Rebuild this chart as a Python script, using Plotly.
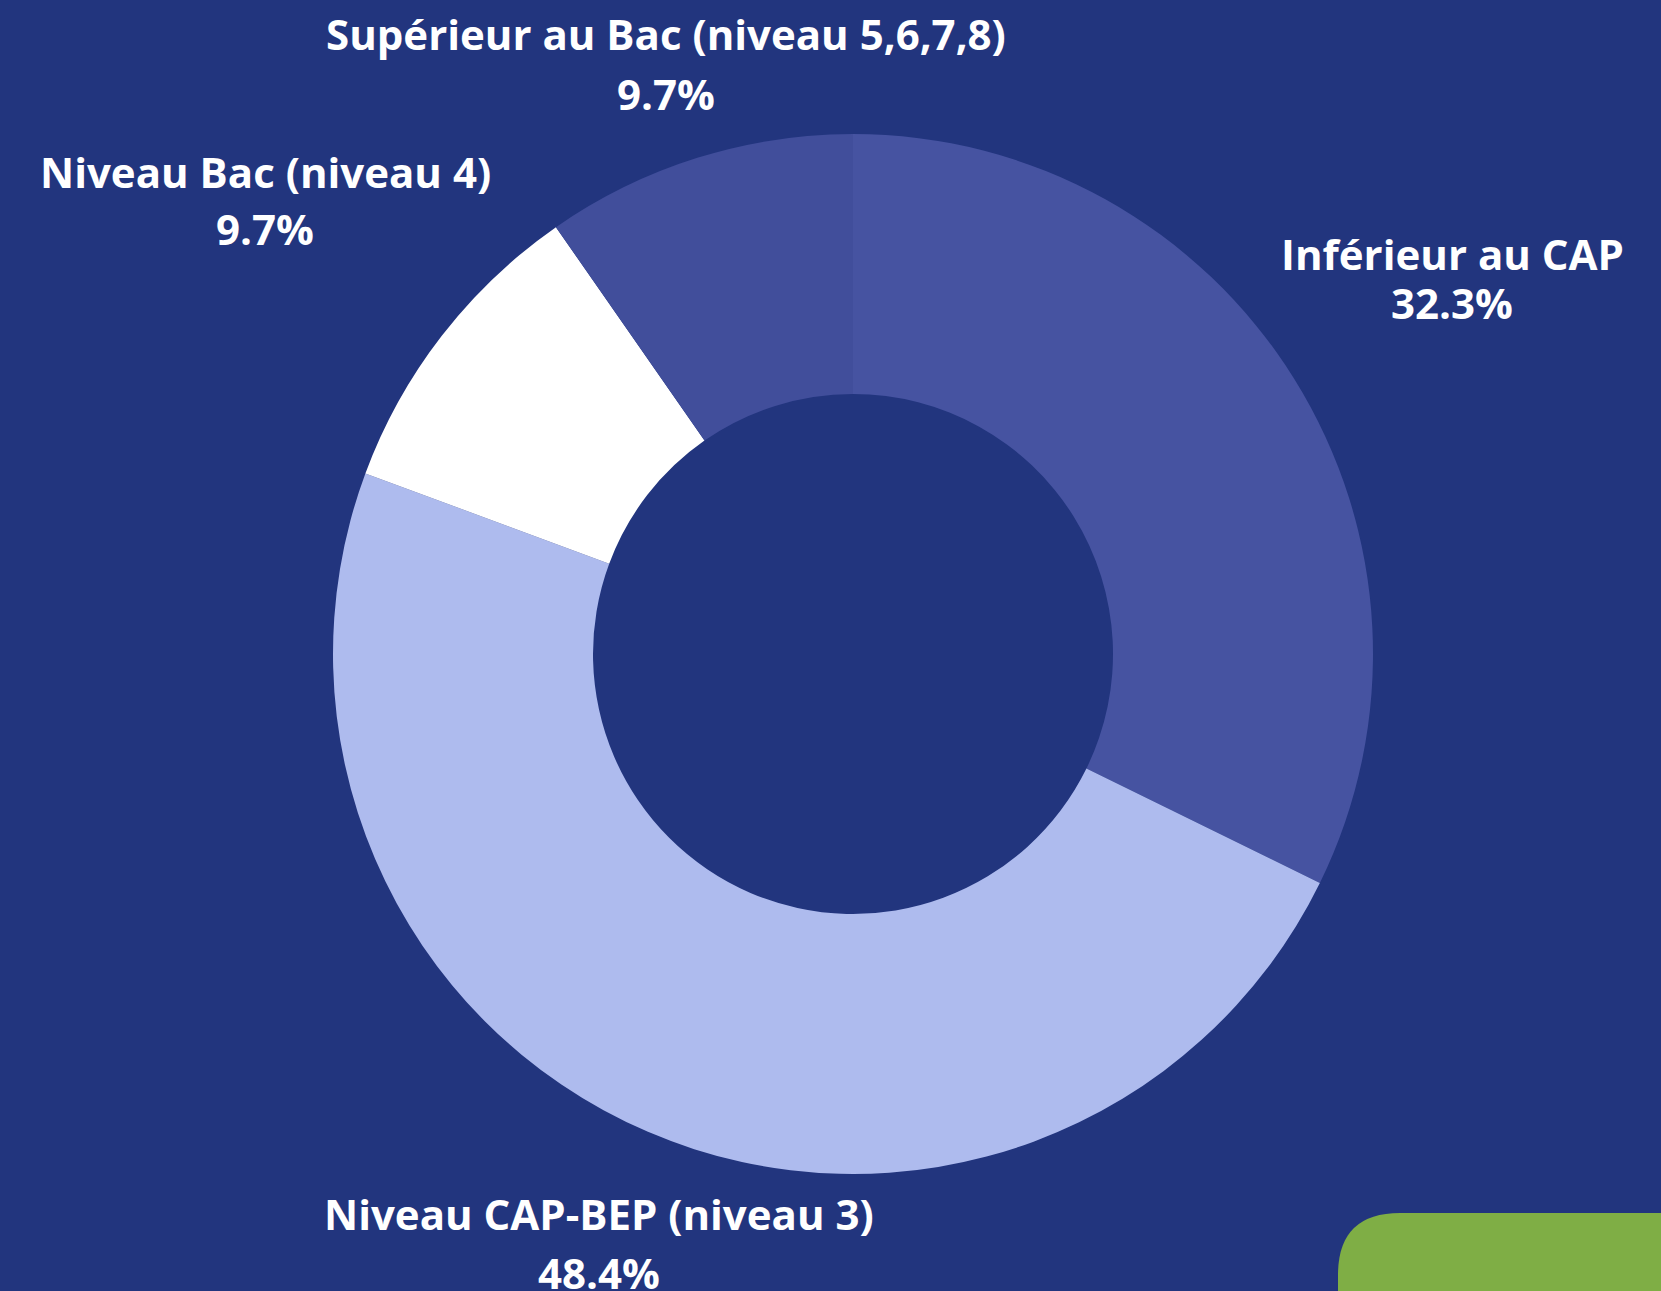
import plotly.graph_objects as go

labels = ["Inférieur au CAP", "Niveau CAP-BEP (niveau 3)", "Niveau Bac (niveau 4)", "Supérieur au Bac (niveau 5,6,7,8)"]
values = [10, 15, 3, 3]
colors = ["#4653a1", "#aebbee", "#ffffff", "#414e9b"]

BG = "#22357e"
W, H = 1661, 1291

# label anchor positions in pixels: (x centre, line1 mid-y, line2 mid-y)
label_pos = [(1452, 253, 302), (599, 1213, 1272), (265, 172, 228), (666, 33, 93)]

fig = go.Figure(go.Pie(
    labels=labels,
    values=values,
    hole=0.5,
    sort=False,
    direction="clockwise",
    rotation=0,
    marker=dict(colors=colors, line=dict(width=0)),
    textinfo="none",
    hoverinfo="label+percent",
    showlegend=False,
    domain=dict(x=[(853 - 520) / W, (853 + 520) / W], y=[(H - 1174) / H, (H - 134) / H]),
))

total = sum(values)
font = dict(family="Open Sans", size=42, color="white", weight=700)
annotations = []
for lab, val, (px, y1, y2) in zip(labels, values, label_pos):
    pct = "{:.1f}%".format(val / total * 100)
    for txt, py in ((lab, y1), (pct, y2)):
        annotations.append(dict(
            text=txt, x=px / W, y=1 - py / H, xref="paper", yref="paper",
            xanchor="center", yanchor="middle", showarrow=False, font=font,
        ))

fig.update_layout(
    width=W, height=H,
    paper_bgcolor=BG, plot_bgcolor=BG,
    margin=dict(l=0, r=0, t=0, b=0),
    font=dict(family="Open Sans", color="white"),
    annotations=annotations,
    shapes=[dict(
        type="path", xref="paper", yref="paper",
        path="M {x0},{y1} L {x0},{ya} Q {x0},{y0} {xa},{y0} L {x2},{y0} L {x2},{y1} Z".format(
            x0=1338 / W, xa=1400 / W, x2=1.01,
            y0=1 - 1213 / H, ya=1 - 1275 / H, y1=-0.01),
        fillcolor="#7fae45", line=dict(width=0), layer="above",
    )],
)

fig.write_html(
    "out.html",
    config={"displayModeBar": False},
    post_script="document.body.style.margin='0';document.body.style.background='#22357e';",
)
